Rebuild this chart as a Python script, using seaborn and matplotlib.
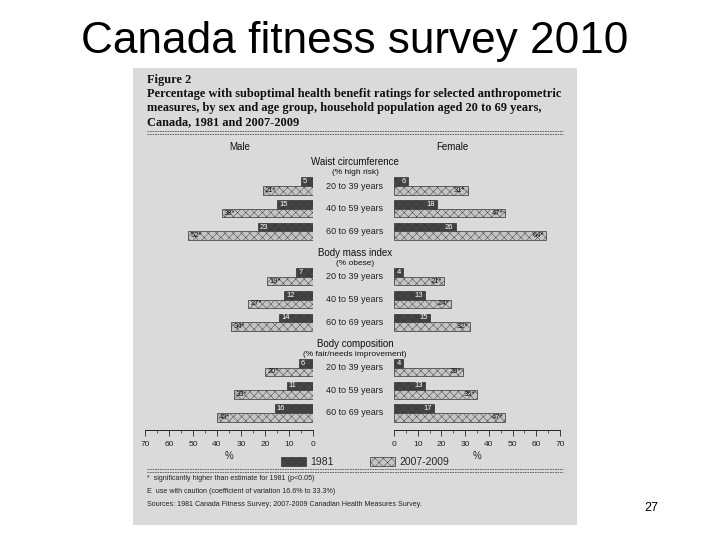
import matplotlib
matplotlib.use("Agg")
import matplotlib.pyplot as plt
import matplotlib.transforms as mtransforms
from matplotlib.patches import Patch, Rectangle
from matplotlib.lines import Line2D
import numpy as np
import pandas as pd
import seaborn as sns

# -----------------------------------------------------
# DATA
# -----------------------------------------------------
measures = ["Waist circumference", "Body mass index", "Body composition"]
measure_units = ["(% high risk)", "(% obese)", "(% fair/needs improvement)"]
ages = ["20 to 39 years", "40 to 59 years", "60 to 69 years"]
years = ["1981", "2007-2009"]

# order: waist 20-39, 40-59, 60-69, bmi ..., body comp ...
male_1981 = [5, 15, 23, 7, 12, 14, 6, 11, 16]
male_2007 = [21, 38, 52, 19, 27, 34, 20, 33, 40]
female_1981 = [6, 18, 26, 4, 13, 15, 4, 13, 17]
female_2007 = [31, 47, 64, 21, 24, 32, 29, 35, 47]

x_ticks = [0, 10, 20, 30, 40, 50, 60, 70]

# -----------------------------------------------------
# LONG TABLE FOR SEABORN
# -----------------------------------------------------
records = []
order = []
for i, m in enumerate(measures):
    order.append(m + "|hdr")
    for j, a in enumerate(ages):
        key = m + "|" + a
        order.append(key)
        k = i * 3 + j
        records.append(dict(row=key, sex="Male", year=years[0], pct=male_1981[k]))
        records.append(dict(row=key, sex="Male", year=years[1], pct=male_2007[k]))
        records.append(dict(row=key, sex="Female", year=years[0], pct=female_1981[k]))
        records.append(dict(row=key, sex="Female", year=years[1], pct=female_2007[k]))
df = pd.DataFrame(records)

year_colors = {"1981": "#444444", "2007-2009": "#c4c4c4"}

# -----------------------------------------------------
# FIGURE
# -----------------------------------------------------
sns.set_theme(style="white")
plt.rcParams["font.family"] = ["Liberation Sans", "DejaVu Sans"]
plt.rcParams["hatch.linewidth"] = 0.3

W, H = 720, 540
fig = plt.figure(figsize=(7.2, 5.4), dpi=100)
fig.patch.set_facecolor("white")


def fx(px):
    return px / W


def fy(py):
    return 1 - py / H


# scanned page background
fig.patches.append(Rectangle((fx(133), fy(525)), fx(577) - fx(133), fy(68) - fy(525),
                             transform=fig.transFigure, facecolor="#dadada",
                             edgecolor="none", zorder=-5))

ax_m = fig.add_axes([fx(145), fy(430), fx(313) - fx(145), fy(152) - fy(430)])
ax_f = fig.add_axes([fx(394), fy(430), fx(560) - fx(394), fy(152) - fy(430)])

for ax, sex in [(ax_m, "Male"), (ax_f, "Female")]:
    sns.barplot(data=df[df["sex"] == sex], y="row", x="pct", hue="year",
                order=order, hue_order=years, orient="h", palette=year_colors,
                width=0.76, edgecolor="#333333", linewidth=0.5, ax=ax,
                legend=False, errorbar=None)
    ax.set_facecolor("none")
    ax.set_ylim(11.75, -0.5)
    ax.set_yticks([])
    ax.set_ylabel("")
    ax.set_xlabel("%", fontsize=7, labelpad=2)
    ax.set_xticks(x_ticks)
    ax.set_xticks(np.arange(5, 70, 10), minor=True)
    ax.tick_params(axis="x", which="major", labelsize=6, length=4, width=0.6,
                   direction="out", bottom=True, pad=4, colors="#222222")
    ax.tick_params(axis="x", which="minor", length=2.5, width=0.5,
                   direction="out", bottom=True)
    for s in ["left", "right", "top"]:
        ax.spines[s].set_visible(False)
    ax.spines["bottom"].set_linewidth(0.7)
    ax.spines["bottom"].set_color("#222222")

    inv = sex == "Male"
    for c_i, cont in enumerate(ax.containers):
        for bar in cont:
            w = bar.get_width()
            if np.isnan(w) or w == 0:
                continue
            bar.set_hatch("xxxx")
            yc = bar.get_y() + bar.get_height() / 2
            lbl = f"{w:.0f}" + ("*" if c_i == 1 else "")
            ax.annotate(lbl, (w, yc), xytext=(1.5 if inv else -1.5, 0),
                        textcoords="offset points", ha="left" if inv else "right",
                        va="center", fontsize=5.5,
                        color="white" if c_i == 0 else "#111111")

ax_m.set_xlim(70, 0)
ax_f.set_xlim(0, 70)

# centred row and section labels
trans = mtransforms.blended_transform_factory(fig.transFigure, ax_m.transData)
for i, m in enumerate(measures):
    hdr = order.index(m + "|hdr")
    ax_m.text(fx(355), hdr - 0.05, m, transform=trans, ha="center", va="center",
              fontsize=7, color="#111111")
    ax_m.text(fx(355), hdr + 0.42, measure_units[i], transform=trans, ha="center",
              va="center", fontsize=6, color="#111111")
    for a in ages:
        ax_m.text(fx(355), order.index(m + "|" + a), a, transform=trans,
                  ha="center", va="center", fontsize=6.5, color="#222222")

# slide title
fig.text(fx(355), fy(41), "Canada fitness survey 2010", ha="center", va="center",
         fontsize=31.8, color="black")

# scanned figure heading
serif = ["Liberation Serif", "DejaVu Serif"]
fig.text(fx(147), fy(80), "Figure 2", family=serif, fontweight="bold", fontsize=8.9,
         va="center", color="#111111")
head_lines = [
    "Percentage with suboptimal health benefit ratings for selected anthropometric",
    "measures, by sex and age group, household population aged 20 to 69 years,",
    "Canada, 1981 and 2007-2009",
]
for n, t in enumerate(head_lines):
    fig.text(fx(147), fy(94 + 14 * n), t, family=serif, fontweight="bold",
             fontsize=8.9, va="center", color="#111111")

for yy in (131, 133.5, 469, 471.5):
    fig.add_artist(Line2D([fx(147), fx(563)], [fy(yy), fy(yy)], transform=fig.transFigure,
                          color="#555555", lw=0.6, ls=(0, (2, 1))))

fig.text(fx(240), fy(147), "Male", ha="center", va="center", fontsize=7, color="#111111")
fig.text(fx(452), fy(147), "Female", ha="center", va="center", fontsize=7, color="#111111")

# legend
handles = [Patch(facecolor=year_colors[y], edgecolor="#333333", linewidth=0.5, hatch="xxxx")
           for y in years]
fig.legend(handles, years, loc="center", bbox_to_anchor=(fx(365), fy(462)), ncol=2,
           frameon=False, fontsize=7.5, handlelength=2.4, handleheight=0.9,
           columnspacing=3.5, handletextpad=0.4)

# footnotes
notes = [
    "*  significantly higher than estimate for 1981 (p<0.05)",
    "E  use with caution (coefficient of variation 16.6% to 33.3%)",
    "Sources: 1981 Canada Fitness Survey; 2007-2009 Canadian Health Measures Survey.",
]
for n, t in enumerate(notes):
    fig.text(fx(147), fy(479 + 12.5 * n), t, fontsize=5.1, va="center", color="#222222")

# slide number
fig.text(fx(651), fy(508), "27", ha="center", va="center", fontsize=9, color="black")

fig.savefig("out.png", dpi=100)
